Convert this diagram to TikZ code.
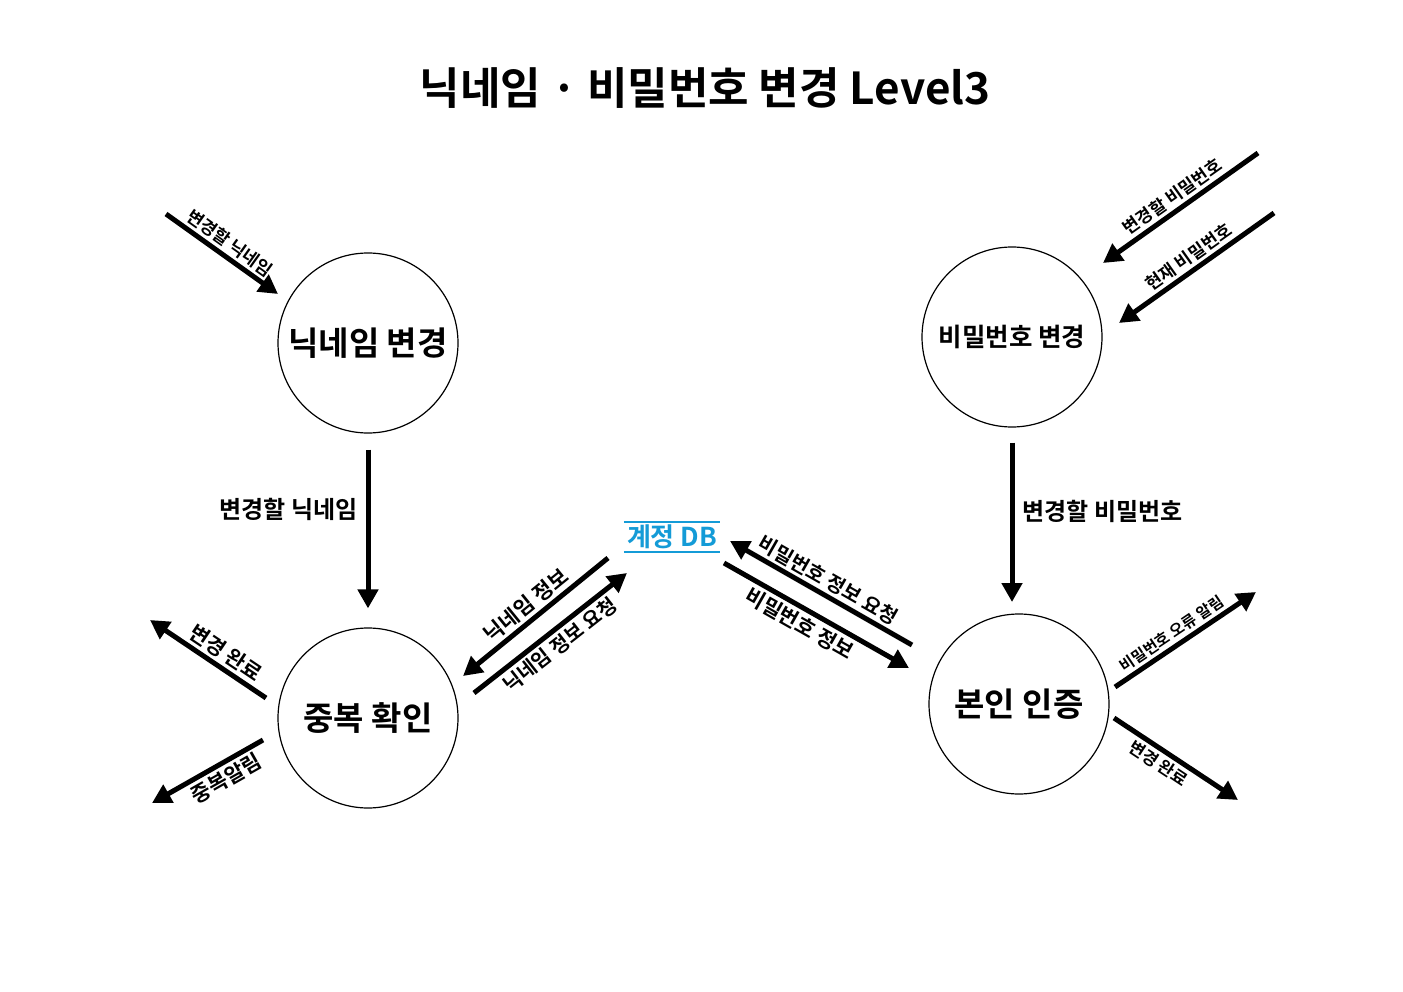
\documentclass[tikz,border=0pt]{standalone}
\usepackage{fontspec}
\setmainfont{Noto Sans CJK KR}[BoldFont={Noto Sans CJK KR Bold}]
\usetikzlibrary{arrows.meta}
\definecolor{dbblue}{RGB}{20,155,215}
\newcommand{\fs}[1]{\fontsize{#1}{#1}\selectfont\bfseries}
\tikzset{
  proc/.style={circle, draw, line width=1.2pt, minimum size=180pt, inner sep=0pt, font=\fs{33}},
  flow/.style={line width=5pt, -{Triangle[length=19pt,width=20pt]}},
  lbl/.style={inner sep=3pt, font=\fs{#1}},
  lbl/.default=18,
}
\begin{document}
\begin{tikzpicture}[x=1pt,y=-1pt]
\useasboundingbox (0,0) rectangle (1403,992);
\fill[white] (0,0) rectangle (1403,992);

\node[font=\fs{44}] (title) at (705,88) {닉네임 · 비밀번호 변경 Level3};

\node[proc] (nick) at (368,343) {닉네임 변경};
\node[proc, font=\fs{25.5}] (pw) at (1012,337) {비밀번호 변경};
\node[proc] (dup) at (368,718) {중복 확인};
\node[proc] (auth) at (1019,704) {본인 인증};

\node[text=dbblue, font=\fs{26}, minimum width=96pt, minimum height=30pt, inner sep=0pt] (db) at (672,537) {계정 DB};
\draw[dbblue, line width=1.5pt] (db.north west) -- (db.north east);
\draw[dbblue, line width=1.5pt] (db.south west) -- (db.south east);

% free ends
\coordinate (a1s) at (166,214); \coordinate (a1e) at (278,294);
\coordinate (a3s) at (1258,153); \coordinate (a3e) at (1103,263);
\coordinate (a4s) at (1274,213); \coordinate (a4e) at (1119,323);
\coordinate (a5e) at (1012,602);
\coordinate (a6s) at (608,558); \coordinate (a6e) at (463,676);
\coordinate (a7s) at (474,693); \coordinate (a7e) at (627,573);
\coordinate (a8s) at (912,645); \coordinate (a8e) at (730,541);
\coordinate (a9s) at (724,563); \coordinate (a9e) at (909,668);
\coordinate (a10s) at (266,698); \coordinate (a10e) at (150,620);
\coordinate (a11s) at (263,740); \coordinate (a11e) at (152,803);
\coordinate (a12s) at (1115,687); \coordinate (a12e) at (1256,592);
\coordinate (a13s) at (1114,718); \coordinate (a13e) at (1238,800);

\draw[flow] (a1s) -- node[lbl=17.5, sloped, above] {변경할 닉네임} (a1e);
\draw[flow, shorten <=16pt, shorten >=19pt] (nick) -- node[lbl=24, pos=0.39, left=5pt] {변경할 닉네임} (dup);
\draw[flow] (a3s) -- node[lbl=17.5, sloped, above] {변경할 비밀번호} (a3e);
\draw[flow] (a4s) -- node[lbl=17.5, sloped, above] {현재 비밀번호} (a4e);
\draw[flow, shorten <=15pt] (pw) -- node[lbl=24, pos=0.48, right=5pt] {변경할 비밀번호} (a5e);

\draw[flow] (a6s) -- node[lbl=21, sloped, above] {닉네임 정보} (a6e);
\draw[flow] (a7s) -- node[lbl=20, sloped, below] {닉네임 정보 요청} (a7e);
\draw[flow] (a8s) -- node[lbl=20, sloped, above] {비밀번호 정보 요청} (a8e);
\draw[flow] (a9s) -- node[lbl=21, sloped, below, pos=0.45] {비밀번호 정보} (a9e);

\draw[flow] (a10s) -- node[lbl=21, sloped, above, pos=0.42] {변경 완료} (a10e);
\draw[flow] (a11s) -- node[lbl=21, sloped, below, pos=0.4] {중복알림} (a11e);
\draw[flow] (a12s) -- node[lbl=15.5, sloped, above, pos=0.45] {비밀번호 오류 알림} (a12e);
\draw[flow] (a13s) -- node[lbl=17, sloped, below, pos=0.42] {변경 완료} (a13e);
\end{tikzpicture}
\end{document}
